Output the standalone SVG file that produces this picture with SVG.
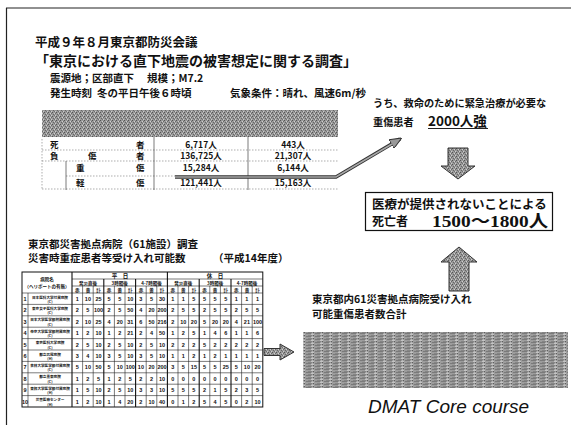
<svg xmlns="http://www.w3.org/2000/svg" width="571" height="425" viewBox="0 0 571 425">
<defs>
<style>
.jp{font-family:"Noto Sans CJK JP","Noto Sans CJK SC",sans-serif;font-weight:700;fill:#111}
.t1{font-size:12.5px}
.t2{font-size:14px}
.t3{font-size:10.5px}
.r{font-size:8.5px}
.v{font-size:8.5px;text-anchor:middle}
.n{font-family:"Liberation Sans",sans-serif;font-weight:700;font-size:5.5px;text-anchor:middle;fill:#111}
.h{font-size:4.5px;text-anchor:middle}
.nm{font-size:3.6px;text-anchor:middle}
.tl{stroke:#222;stroke-width:0.6;fill:none}
.tb{stroke:#111;stroke-width:1.1;fill:none}
.dot{stroke:#777;stroke-width:0.6;stroke-dasharray:1.5 1.5;fill:none}
.blk{fill:url(#dither);stroke:#333;stroke-width:1}
</style>
<pattern id="dither" width="4" height="4" patternUnits="userSpaceOnUse">
<rect width="4" height="4" fill="#9a9a9a"/>
<rect x="0" y="0" width="1" height="1" fill="#555"/>
<rect x="2" y="1" width="1" height="1" fill="#d0d0d0"/>
<rect x="1" y="2" width="1" height="1" fill="#666"/>
<rect x="3" y="3" width="1" height="1" fill="#ccc"/>
<rect x="3" y="1" width="1" height="1" fill="#6a6a6a"/>
<rect x="2" y="3" width="1" height="1" fill="#707070"/>
</pattern>
<pattern id="streak" width="9" height="3" patternUnits="userSpaceOnUse">
<rect width="9" height="3" fill="#9c9c9c"/>
<rect x="0" y="0" width="5" height="1" fill="#7a7a7a"/>
<rect x="5" y="1" width="3" height="1" fill="#c4c4c4"/>
<rect x="2" y="2" width="4" height="1" fill="#858585"/>
<rect x="7" y="2" width="1" height="1" fill="#5e5e5e"/>
<rect x="6" y="0" width="1" height="1" fill="#b8b8b8"/>
</pattern>
<marker id="ah" viewBox="0 0 12 10" refX="10" refY="5" markerWidth="12" markerHeight="10" markerUnits="userSpaceOnUse" orient="auto">
<path d="M0,0 L12,5 L0,10 Z" fill="#999" stroke="#333" stroke-width="1"/>
</marker>
</defs>
<rect width="571" height="425" fill="#fff"/>
<g id="frame">
<line x1="6" y1="8" x2="571" y2="8" stroke="#222" stroke-width="1.2"/>
<line x1="6.5" y1="8" x2="6.5" y2="425" stroke="#222" stroke-width="1.2"/>
</g>
<g id="title">
<text class="jp t1" x="35" y="46.5">平成９年８月東京都防災会議</text>
<text class="jp t2" x="35" y="66">「東京における直下地震の被害想定に関する調査」</text>
<text class="jp t3" x="50" y="82">震源地；区部直下</text>
<text class="jp t3" x="147" y="82">規模；M7.2</text>
<text class="jp t3" x="50" y="96.5">発生時刻</text>
<text class="jp t3" x="97" y="96.5">冬の平日午後６時頃</text>
<text class="jp t3" x="230" y="96.5">気象条件：晴れ、風速6m/秒</text>
</g>
<g id="damage-table">
<rect x="42" y="110" width="296" height="27" fill="url(#dither)"/>
<line class="dot" x1="42" y1="150" x2="338" y2="150"/>
<line class="dot" x1="42" y1="161" x2="338" y2="161"/>
<line class="dot" x1="66" y1="176" x2="175" y2="176"/>
<line class="dot" x1="42" y1="189" x2="338" y2="189"/>
<line class="dot" x1="42" y1="139" x2="42" y2="190"/>
<line class="tl" x1="154" y1="137" x2="154" y2="190"/>
<line class="tl" x1="248" y1="137" x2="248" y2="190"/>
<line class="tl" x1="66" y1="161" x2="66" y2="190"/>
<text class="jp r" x="50" y="148">死</text>
<text class="jp r" x="136" y="148">者</text>
<text class="jp r" x="50" y="159">負</text>
<text class="jp r" x="88" y="159">傷</text>
<text class="jp r" x="136" y="159">者</text>
<text class="jp r" x="76" y="171">重</text>
<text class="jp r" x="136" y="171">傷</text>
<text class="jp r" x="76" y="186">軽</text>
<text class="jp r" x="136" y="186">傷</text>
<text class="jp v" x="201" y="148">6,717人</text>
<text class="jp v" x="293" y="148">443人</text>
<text class="jp v" x="201" y="159">136,725人</text>
<text class="jp v" x="293" y="159">21,307人</text>
<text class="jp v" x="201" y="171">15,284人</text>
<text class="jp v" x="293" y="171">6,144人</text>
<text class="jp v" x="201" y="186">121,441人</text>
<text class="jp v" x="293" y="186">15,163人</text>
</g>
<g id="note-severe">
<text class="jp" font-size="10.2" x="373" y="107">うち、救命のために緊急治療が必要な</text>
<text class="jp" font-size="10.2" x="373" y="126">重傷患者</text>
<text class="jp" font-size="13.5" x="428" y="126">2000人強</text>
<line x1="428" y1="128.5" x2="488" y2="128.5" stroke="#222" stroke-width="1"/>
</g>
<g id="death-box">
<rect x="365.5" y="192.5" width="187" height="38" fill="#fff" stroke="#111" stroke-width="1.2"/>
<text class="jp" font-size="12.5" x="372" y="209">医療が提供されないことによる</text>
<text class="jp" font-size="12" x="372" y="226">死亡者</text>
<text x="432" y="227" font-family="'Liberation Serif','Noto Sans CJK JP',serif" font-weight="700" font-size="17" fill="#111" textLength="116" lengthAdjust="spacingAndGlyphs">1500〜1800人</text>
</g>
<g id="hospital-survey">
<text class="jp" font-size="10.5" x="28" y="248">東京都災害拠点病院（61施設）調査</text>
<text class="jp" font-size="10.5" x="28" y="262">災害時重症患者等受け入れ可能数</text>
<text class="jp" font-size="10.5" x="213" y="262">（平成14年度）</text>
<rect x="22" y="272" width="240.8" height="135" fill="#fff" stroke="#111" stroke-width="1"/>
<g class="tl">
<path d="M22,293H262.8M72,279H262.8M72,286H262.8"/>
<path d="M22,304.4H262.8M22,315.8H262.8M22,327.2H262.8M22,338.6H262.8M22,350H262.8M22,361.4H262.8M22,372.8H262.8M22,384.2H262.8M22,395.6H262.8"/>
<path d="M28,293V407M82.6,286V407M93.2,286V407M114.4,286V407M125,286V407M146.2,286V407M156.8,286V407M178,286V407M188.6,286V407M209.8,286V407M220.4,286V407M241.6,286V407M252.2,286V407"/>
</g>
<g class="tb">
<path d="M72,272V407M167.4,272V407M103.8,279V407M135.6,279V407M199.2,279V407M231,279V407"/>
</g>
<text class="jp h" x="47" y="281">病院名</text>
<text class="jp h" x="47" y="288" font-size="4">（ヘリポートの有無）</text>
<text class="jp" font-size="5.5" text-anchor="middle" x="120" y="278">平　日</text>
<text class="jp" font-size="5.5" text-anchor="middle" x="215" y="278">休　日</text>
<text class="jp h" y="284.7"><tspan x="87.9">発災直後</tspan><tspan x="119.7">3時間後</tspan><tspan x="151.5">4-7時間後</tspan><tspan x="183.3">発災直後</tspan><tspan x="215.1">3時間後</tspan><tspan x="246.9">4-7時間後</tspan></text>
<text class="jp h" y="291.5"><tspan x="77.3">赤</tspan><tspan x="87.9">黄</tspan><tspan x="98.5">計</tspan><tspan x="109.1">赤</tspan><tspan x="119.7">黄</tspan><tspan x="130.3">計</tspan><tspan x="140.9">赤</tspan><tspan x="151.5">黄</tspan><tspan x="162.1">計</tspan><tspan x="172.7">赤</tspan><tspan x="183.3">黄</tspan><tspan x="193.9">計</tspan><tspan x="204.5">赤</tspan><tspan x="215.1">黄</tspan><tspan x="225.7">計</tspan><tspan x="236.3">赤</tspan><tspan x="246.9">黄</tspan><tspan x="257.5">計</tspan></text>
<text class="n" font-size="5" y="301"><tspan x="25">1</tspan></text>
<text class="n" font-size="5" y="312.4"><tspan x="25">2</tspan></text>
<text class="n" font-size="5" y="323.8"><tspan x="25">3</tspan></text>
<text class="n" font-size="5" y="335.2"><tspan x="25">4</tspan></text>
<text class="n" font-size="5" y="346.6"><tspan x="25">5</tspan></text>
<text class="n" font-size="5" y="358"><tspan x="25">6</tspan></text>
<text class="n" font-size="5" y="369.4"><tspan x="25">7</tspan></text>
<text class="n" font-size="5" y="380.8"><tspan x="25">8</tspan></text>
<text class="n" font-size="5" y="392.2"><tspan x="25">9</tspan></text>
<text class="n" font-size="4.2" y="403.6"><tspan x="25">10</tspan></text>
<text class="jp nm" x="50" y="298.5">日本医科大学付属病院</text><text class="jp nm" x="50" y="303">(C)</text>
<text class="jp nm" x="50" y="309.9">東京女子医科大学病院</text><text class="jp nm" x="50" y="314.4">(C)</text>
<text class="jp nm" x="50" y="321.3">日本大学医学部附属病院</text><text class="jp nm" x="50" y="325.8">(C)</text>
<text class="jp nm" x="50" y="332.7">帝京大学医学部附属病院</text><text class="jp nm" x="50" y="337.2">(C)</text>
<text class="jp nm" x="50" y="344.1">東京医科大学病院</text><text class="jp nm" x="50" y="348.6">(C)</text>
<text class="jp nm" x="50" y="355.5">都立広尾病院</text><text class="jp nm" x="50" y="360">(H)</text>
<text class="jp nm" x="50" y="366.9">杏林大学医学部付属病院</text><text class="jp nm" x="50" y="371.4">(C)</text>
<text class="jp nm" x="50" y="378.3">都立墨東病院</text><text class="jp nm" x="50" y="382.8">(C)</text>
<text class="jp nm" x="50" y="389.7">東邦大学医学部付属病院</text><text class="jp nm" x="50" y="394.2">(H)</text>
<text class="jp nm" x="50" y="401.1">災害医療センター</text><text class="jp nm" x="50" y="405.6">(H)</text>
<text class="n" y="301"><tspan x="77.3">1</tspan><tspan x="87.9">10</tspan><tspan x="98.5">25</tspan><tspan x="109.1">5</tspan><tspan x="119.7">5</tspan><tspan x="130.3">10</tspan><tspan x="140.9">3</tspan><tspan x="151.5">5</tspan><tspan x="162.1">30</tspan><tspan x="172.7">1</tspan><tspan x="183.3">1</tspan><tspan x="193.9">5</tspan><tspan x="204.5">5</tspan><tspan x="215.1">5</tspan><tspan x="225.7">5</tspan><tspan x="236.3">1</tspan><tspan x="246.9">1</tspan><tspan x="257.5">1</tspan></text>
<text class="n" y="312.4"><tspan x="77.3">2</tspan><tspan x="87.9">5</tspan><tspan x="98.5">100</tspan><tspan x="109.1">2</tspan><tspan x="119.7">5</tspan><tspan x="130.3">50</tspan><tspan x="140.9">4</tspan><tspan x="151.5">20</tspan><tspan x="162.1">200</tspan><tspan x="172.7">2</tspan><tspan x="183.3">5</tspan><tspan x="193.9">5</tspan><tspan x="204.5">2</tspan><tspan x="215.1">5</tspan><tspan x="225.7">5</tspan><tspan x="236.3">2</tspan><tspan x="246.9">5</tspan><tspan x="257.5">5</tspan></text>
<text class="n" y="323.8"><tspan x="77.3">2</tspan><tspan x="87.9">10</tspan><tspan x="98.5">25</tspan><tspan x="109.1">4</tspan><tspan x="119.7">20</tspan><tspan x="130.3">31</tspan><tspan x="140.9">6</tspan><tspan x="151.5">50</tspan><tspan x="162.1">216</tspan><tspan x="172.7">2</tspan><tspan x="183.3">10</tspan><tspan x="193.9">20</tspan><tspan x="204.5">5</tspan><tspan x="215.1">20</tspan><tspan x="225.7">20</tspan><tspan x="236.3">4</tspan><tspan x="246.9">21</tspan><tspan x="257.5">100</tspan></text>
<text class="n" y="335.2"><tspan x="77.3">1</tspan><tspan x="87.9">2</tspan><tspan x="98.5">10</tspan><tspan x="109.1">1</tspan><tspan x="119.7">2</tspan><tspan x="130.3">21</tspan><tspan x="140.9">2</tspan><tspan x="151.5">4</tspan><tspan x="162.1">50</tspan><tspan x="172.7">1</tspan><tspan x="183.3">2</tspan><tspan x="193.9">5</tspan><tspan x="204.5">1</tspan><tspan x="215.1">4</tspan><tspan x="225.7">6</tspan><tspan x="236.3">1</tspan><tspan x="246.9">1</tspan><tspan x="257.5">6</tspan></text>
<text class="n" y="346.6"><tspan x="77.3">2</tspan><tspan x="87.9">5</tspan><tspan x="98.5">10</tspan><tspan x="109.1">2</tspan><tspan x="119.7">5</tspan><tspan x="130.3">10</tspan><tspan x="140.9">2</tspan><tspan x="151.5">5</tspan><tspan x="162.1">10</tspan><tspan x="172.7">2</tspan><tspan x="183.3">2</tspan><tspan x="193.9">2</tspan><tspan x="204.5">5</tspan><tspan x="215.1">2</tspan><tspan x="225.7">2</tspan><tspan x="236.3">2</tspan><tspan x="246.9">2</tspan><tspan x="257.5">2</tspan></text>
<text class="n" y="358"><tspan x="77.3">3</tspan><tspan x="87.9">4</tspan><tspan x="98.5">10</tspan><tspan x="109.1">3</tspan><tspan x="119.7">5</tspan><tspan x="130.3">10</tspan><tspan x="140.9">3</tspan><tspan x="151.5">5</tspan><tspan x="162.1">10</tspan><tspan x="172.7">1</tspan><tspan x="183.3">1</tspan><tspan x="193.9">2</tspan><tspan x="204.5">1</tspan><tspan x="215.1">2</tspan><tspan x="225.7">1</tspan><tspan x="236.3">1</tspan><tspan x="246.9">1</tspan><tspan x="257.5">1</tspan></text>
<text class="n" y="369.4"><tspan x="77.3">5</tspan><tspan x="87.9">10</tspan><tspan x="98.5">50</tspan><tspan x="109.1">5</tspan><tspan x="119.7">10</tspan><tspan x="130.3">100</tspan><tspan x="140.9">10</tspan><tspan x="151.5">20</tspan><tspan x="162.1">200</tspan><tspan x="172.7">3</tspan><tspan x="183.3">5</tspan><tspan x="193.9">15</tspan><tspan x="204.5">5</tspan><tspan x="215.1">5</tspan><tspan x="225.7">25</tspan><tspan x="236.3">5</tspan><tspan x="246.9">10</tspan><tspan x="257.5">20</tspan></text>
<text class="n" y="380.8"><tspan x="77.3">1</tspan><tspan x="87.9">2</tspan><tspan x="98.5">5</tspan><tspan x="109.1">1</tspan><tspan x="119.7">2</tspan><tspan x="130.3">5</tspan><tspan x="140.9">2</tspan><tspan x="151.5">2</tspan><tspan x="162.1">10</tspan><tspan x="172.7">0</tspan><tspan x="183.3">0</tspan><tspan x="193.9">0</tspan><tspan x="204.5">0</tspan><tspan x="215.1">0</tspan><tspan x="225.7">0</tspan><tspan x="236.3">0</tspan><tspan x="246.9">0</tspan><tspan x="257.5">0</tspan></text>
<text class="n" y="392.2"><tspan x="77.3">1</tspan><tspan x="87.9">5</tspan><tspan x="98.5">10</tspan><tspan x="109.1">2</tspan><tspan x="119.7">5</tspan><tspan x="130.3">10</tspan><tspan x="140.9">3</tspan><tspan x="151.5">3</tspan><tspan x="162.1">10</tspan><tspan x="172.7">5</tspan><tspan x="183.3">5</tspan><tspan x="193.9">5</tspan><tspan x="204.5">2</tspan><tspan x="215.1">1</tspan><tspan x="225.7">5</tspan><tspan x="236.3">2</tspan><tspan x="246.9">3</tspan><tspan x="257.5">5</tspan></text>
<text class="n" y="403.6"><tspan x="77.3">1</tspan><tspan x="87.9">2</tspan><tspan x="98.5">10</tspan><tspan x="109.1">1</tspan><tspan x="119.7">4</tspan><tspan x="130.3">20</tspan><tspan x="140.9">2</tspan><tspan x="151.5">10</tspan><tspan x="162.1">40</tspan><tspan x="172.7">0</tspan><tspan x="183.3">1</tspan><tspan x="193.9">2</tspan><tspan x="204.5">5</tspan><tspan x="215.1">4</tspan><tspan x="225.7">5</tspan><tspan x="236.3">0</tspan><tspan x="246.9">2</tspan><tspan x="257.5">10</tspan></text>
</g>
<g id="capacity-total">
<text class="jp" font-size="10.5" x="312" y="303">東京都内61災害拠点病院受け入れ</text>
<text class="jp" font-size="10.5" x="312" y="318">可能重傷患者数合計</text>
<rect x="303" y="332" width="265" height="56" fill="url(#streak)"/>
</g>
<g id="caption">
<text x="368" y="413" font-family="'Liberation Sans',Arial,sans-serif" font-style="italic" font-size="19" fill="#111">DMAT Core course</text>
</g>
<g id="connectors">
<path d="M175,177 H336 L400,139" fill="none" stroke="#333" stroke-width="3.6" stroke-linejoin="miter" marker-end="url(#ah)"/>
<path d="M175,177 H336 L392,144" fill="none" stroke="#a8a8a8" stroke-width="1.6"/>
<path class="blk" d="M448,148 H468 V166 H475 L458,179 L441,166 H448 Z"/>
<path class="blk" d="M449,291 H469 V262 H477 L459,247 L441,262 H449 Z"/>
<path class="blk" d="M264,348.5 H280 V344 L294,352 L280,360 V355.5 H264 Z"/>
</g>
</svg>
